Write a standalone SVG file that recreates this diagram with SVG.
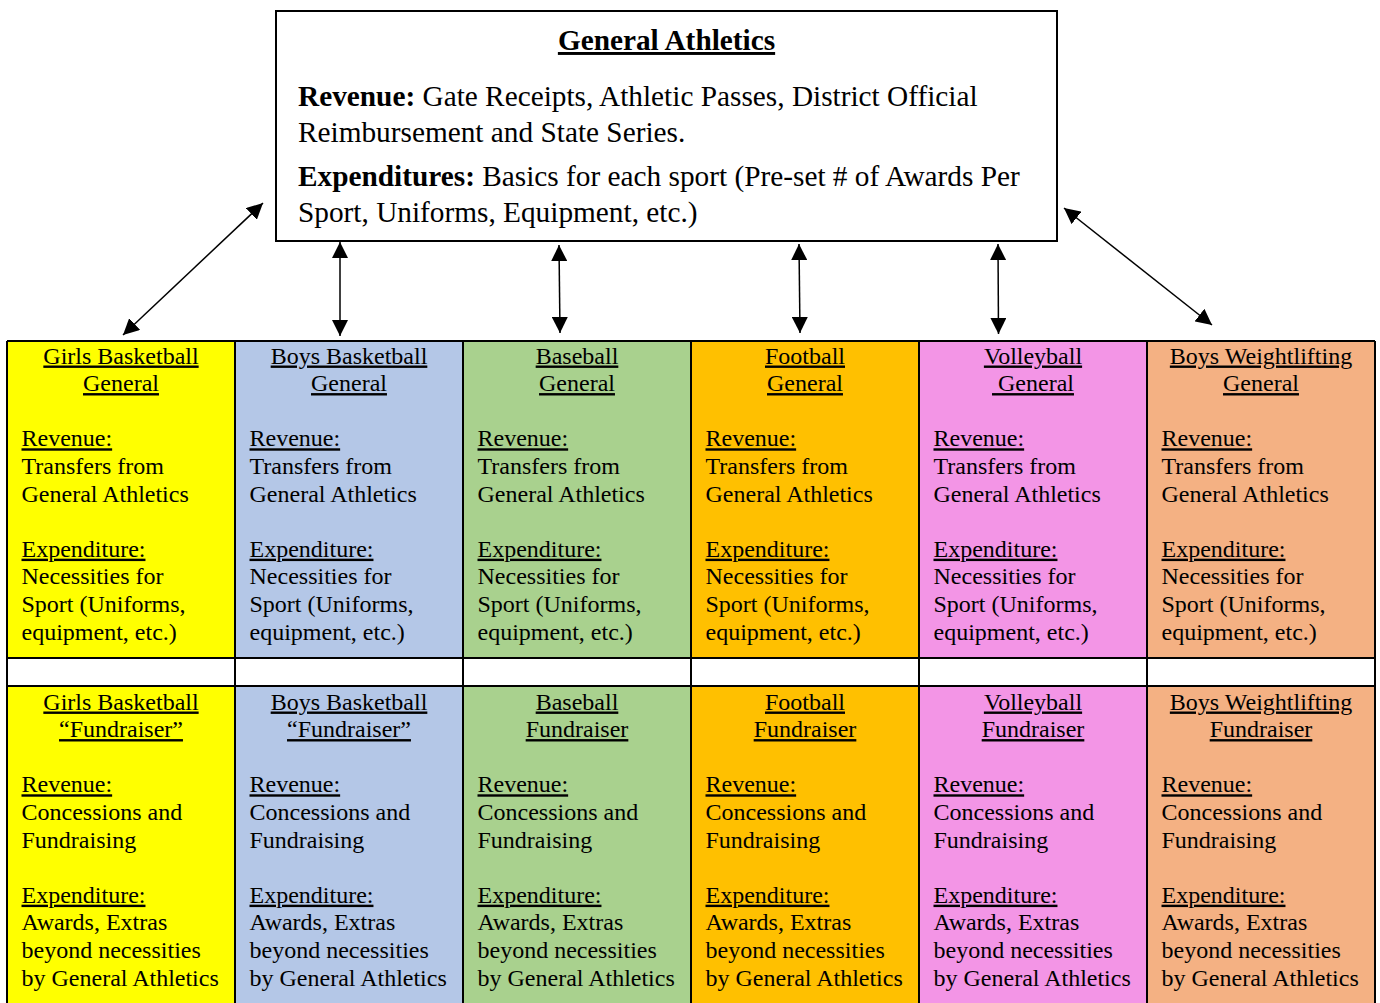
<svg xmlns="http://www.w3.org/2000/svg" width="1380" height="1003" viewBox="0 0 1380 1003">
<defs>
<style>
text{font-family:"Liberation Serif","Times New Roman",serif;fill:#000;}
.t{font-size:24px;}
.c{text-anchor:middle;}
.u{text-decoration:underline;}
.big{font-size:29.3px;}
.b{font-weight:bold;}
.cell{stroke:none;}
.grid{stroke:#000;stroke-width:2;fill:none;}
.conn{stroke:#000;stroke-width:1.5;fill:none;marker-start:url(#ah);marker-end:url(#ah);}
</style>
<marker id="ah" viewBox="0 0 16 16" refX="16" refY="8" markerWidth="16" markerHeight="16" markerUnits="userSpaceOnUse" orient="auto-start-reverse">
<path d="M0,0 L16,8 L0,16 z" fill="#000"/>
</marker>
</defs>
<rect x="0" y="0" width="1380" height="1003" fill="#fff"/>

<g id="general-athletics">
<rect x="276" y="11" width="781" height="230" fill="#fff" stroke="#000" stroke-width="2"/>
<text class="big b u c" x="666.5" y="50">General Athletics</text>
<text class="big" x="298" y="105.5"><tspan class="b">Revenue:</tspan> Gate Receipts, Athletic Passes, District Official</text>
<text class="big" x="298" y="142">Reimbursement and State Series.</text>
<text class="big" x="298" y="185.5"><tspan class="b">Expenditures:</tspan> Basics for each sport (Pre-set # of Awards Per</text>
<text class="big" x="298" y="221.5">Sport, Uniforms, Equipment, etc.)</text>
</g>

<g id="girls-basketball-general">
<rect class="cell" x="7" y="341" width="228" height="317" fill="#FFFF00"/>
<text class="t c u" x="121" y="363.5">Girls Basketball</text>
<text class="t c u" x="121" y="391.1">General</text>
<text class="t" x="21.5"><tspan class="u" y="446.3">Revenue:</tspan><tspan x="21.5" y="473.9">Transfers from</tspan><tspan x="21.5" y="501.5">General Athletics</tspan><tspan class="u" x="21.5" y="556.7">Expenditure:</tspan><tspan x="21.5" y="584.3">Necessities for</tspan><tspan x="21.5" y="611.9">Sport (Uniforms,</tspan><tspan x="21.5" y="639.5">equipment, etc.)</tspan></text>
</g>
<g id="boys-basketball-general">
<rect class="cell" x="235" y="341" width="228" height="317" fill="#B4C7E7"/>
<text class="t c u" x="349" y="363.5">Boys Basketball</text>
<text class="t c u" x="349" y="391.1">General</text>
<text class="t" x="249.5"><tspan class="u" y="446.3">Revenue:</tspan><tspan x="249.5" y="473.9">Transfers from</tspan><tspan x="249.5" y="501.5">General Athletics</tspan><tspan class="u" x="249.5" y="556.7">Expenditure:</tspan><tspan x="249.5" y="584.3">Necessities for</tspan><tspan x="249.5" y="611.9">Sport (Uniforms,</tspan><tspan x="249.5" y="639.5">equipment, etc.)</tspan></text>
</g>
<g id="baseball-general">
<rect class="cell" x="463" y="341" width="228" height="317" fill="#A9D18E"/>
<text class="t c u" x="577" y="363.5">Baseball</text>
<text class="t c u" x="577" y="391.1">General</text>
<text class="t" x="477.5"><tspan class="u" y="446.3">Revenue:</tspan><tspan x="477.5" y="473.9">Transfers from</tspan><tspan x="477.5" y="501.5">General Athletics</tspan><tspan class="u" x="477.5" y="556.7">Expenditure:</tspan><tspan x="477.5" y="584.3">Necessities for</tspan><tspan x="477.5" y="611.9">Sport (Uniforms,</tspan><tspan x="477.5" y="639.5">equipment, etc.)</tspan></text>
</g>
<g id="football-general">
<rect class="cell" x="691" y="341" width="228" height="317" fill="#FFC000"/>
<text class="t c u" x="805" y="363.5">Football</text>
<text class="t c u" x="805" y="391.1">General</text>
<text class="t" x="705.5"><tspan class="u" y="446.3">Revenue:</tspan><tspan x="705.5" y="473.9">Transfers from</tspan><tspan x="705.5" y="501.5">General Athletics</tspan><tspan class="u" x="705.5" y="556.7">Expenditure:</tspan><tspan x="705.5" y="584.3">Necessities for</tspan><tspan x="705.5" y="611.9">Sport (Uniforms,</tspan><tspan x="705.5" y="639.5">equipment, etc.)</tspan></text>
</g>
<g id="volleyball-general">
<rect class="cell" x="919" y="341" width="228" height="317" fill="#F395E6"/>
<text class="t c u" x="1033" y="363.5">Volleyball</text>
<text class="t c u" x="1033" y="391.1">&#160;General</text>
<text class="t" x="933.5"><tspan class="u" y="446.3">Revenue:</tspan><tspan x="933.5" y="473.9">Transfers from</tspan><tspan x="933.5" y="501.5">General Athletics</tspan><tspan class="u" x="933.5" y="556.7">Expenditure:</tspan><tspan x="933.5" y="584.3">Necessities for</tspan><tspan x="933.5" y="611.9">Sport (Uniforms,</tspan><tspan x="933.5" y="639.5">equipment, etc.)</tspan></text>
</g>
<g id="boys-weightlifting-general">
<rect class="cell" x="1147" y="341" width="228" height="317" fill="#F4B183"/>
<text class="t c u" x="1261" y="363.5">Boys Weightlifting</text>
<text class="t c u" x="1261" y="391.1">General</text>
<text class="t" x="1161.5"><tspan class="u" y="446.3">Revenue:</tspan><tspan x="1161.5" y="473.9">Transfers from</tspan><tspan x="1161.5" y="501.5">General Athletics</tspan><tspan class="u" x="1161.5" y="556.7">Expenditure:</tspan><tspan x="1161.5" y="584.3">Necessities for</tspan><tspan x="1161.5" y="611.9">Sport (Uniforms,</tspan><tspan x="1161.5" y="639.5">equipment, etc.)</tspan></text>
</g>

<g id="girls-basketball-fundraiser">
<rect class="cell" x="7" y="686" width="228" height="330" fill="#FFFF00"/>
<text class="t c u" x="121" y="709.5">Girls Basketball</text>
<text class="t c u" x="121" y="737.1">“Fundraiser”</text>
<text class="t" x="21.5"><tspan class="u" y="792.3">Revenue:</tspan><tspan x="21.5" y="819.9">Concessions and</tspan><tspan x="21.5" y="847.5">Fundraising</tspan><tspan class="u" x="21.5" y="902.7">Expenditure:</tspan><tspan x="21.5" y="930.3">Awards, Extras</tspan><tspan x="21.5" y="957.9">beyond necessities</tspan><tspan x="21.5" y="985.5">by General Athletics</tspan></text>
</g>
<g id="boys-basketball-fundraiser">
<rect class="cell" x="235" y="686" width="228" height="330" fill="#B4C7E7"/>
<text class="t c u" x="349" y="709.5">Boys Basketball</text>
<text class="t c u" x="349" y="737.1">“Fundraiser”</text>
<text class="t" x="249.5"><tspan class="u" y="792.3">Revenue:</tspan><tspan x="249.5" y="819.9">Concessions and</tspan><tspan x="249.5" y="847.5">Fundraising</tspan><tspan class="u" x="249.5" y="902.7">Expenditure:</tspan><tspan x="249.5" y="930.3">Awards, Extras</tspan><tspan x="249.5" y="957.9">beyond necessities</tspan><tspan x="249.5" y="985.5">by General Athletics</tspan></text>
</g>
<g id="baseball-fundraiser">
<rect class="cell" x="463" y="686" width="228" height="330" fill="#A9D18E"/>
<text class="t c u" x="577" y="709.5">Baseball</text>
<text class="t c u" x="577" y="737.1">Fundraiser</text>
<text class="t" x="477.5"><tspan class="u" y="792.3">Revenue:</tspan><tspan x="477.5" y="819.9">Concessions and</tspan><tspan x="477.5" y="847.5">Fundraising</tspan><tspan class="u" x="477.5" y="902.7">Expenditure:</tspan><tspan x="477.5" y="930.3">Awards, Extras</tspan><tspan x="477.5" y="957.9">beyond necessities</tspan><tspan x="477.5" y="985.5">by General Athletics</tspan></text>
</g>
<g id="football-fundraiser">
<rect class="cell" x="691" y="686" width="228" height="330" fill="#FFC000"/>
<text class="t c u" x="805" y="709.5">Football</text>
<text class="t c u" x="805" y="737.1">Fundraiser</text>
<text class="t" x="705.5"><tspan class="u" y="792.3">Revenue:</tspan><tspan x="705.5" y="819.9">Concessions and</tspan><tspan x="705.5" y="847.5">Fundraising</tspan><tspan class="u" x="705.5" y="902.7">Expenditure:</tspan><tspan x="705.5" y="930.3">Awards, Extras</tspan><tspan x="705.5" y="957.9">beyond necessities</tspan><tspan x="705.5" y="985.5">by General Athletics</tspan></text>
</g>
<g id="volleyball-fundraiser">
<rect class="cell" x="919" y="686" width="228" height="330" fill="#F395E6"/>
<text class="t c u" x="1033" y="709.5">Volleyball</text>
<text class="t c u" x="1033" y="737.1">Fundraiser</text>
<text class="t" x="933.5"><tspan class="u" y="792.3">Revenue:</tspan><tspan x="933.5" y="819.9">Concessions and</tspan><tspan x="933.5" y="847.5">Fundraising</tspan><tspan class="u" x="933.5" y="902.7">Expenditure:</tspan><tspan x="933.5" y="930.3">Awards, Extras</tspan><tspan x="933.5" y="957.9">beyond necessities</tspan><tspan x="933.5" y="985.5">by General Athletics</tspan></text>
</g>
<g id="boys-weightlifting-fundraiser">
<rect class="cell" x="1147" y="686" width="228" height="330" fill="#F4B183"/>
<text class="t c u" x="1261" y="709.5">Boys Weightlifting</text>
<text class="t c u" x="1261" y="737.1">Fundraiser</text>
<text class="t" x="1161.5"><tspan class="u" y="792.3">Revenue:</tspan><tspan x="1161.5" y="819.9">Concessions and</tspan><tspan x="1161.5" y="847.5">Fundraising</tspan><tspan class="u" x="1161.5" y="902.7">Expenditure:</tspan><tspan x="1161.5" y="930.3">Awards, Extras</tspan><tspan x="1161.5" y="957.9">beyond necessities</tspan><tspan x="1161.5" y="985.5">by General Athletics</tspan></text>
</g>

<g id="grid-lines" class="grid">
<path d="M7,341H1375M7,658H1375M7,686H1375M7,341V1010M235,341V1010M463,341V1010M691,341V1010M919,341V1010M1147,341V1010M1375,341V1010"/>
</g>

<g id="connectors">
<line class="conn" x1="263" y1="203" x2="123" y2="335"/>
<line class="conn" x1="340" y1="242" x2="340" y2="336"/>
<line class="conn" x1="559" y1="245" x2="560" y2="333"/>
<line class="conn" x1="799" y1="244" x2="800" y2="333"/>
<line class="conn" x1="998" y1="244" x2="998.5" y2="334"/>
<line class="conn" x1="1064" y1="208" x2="1212" y2="325"/>
</g>
</svg>
